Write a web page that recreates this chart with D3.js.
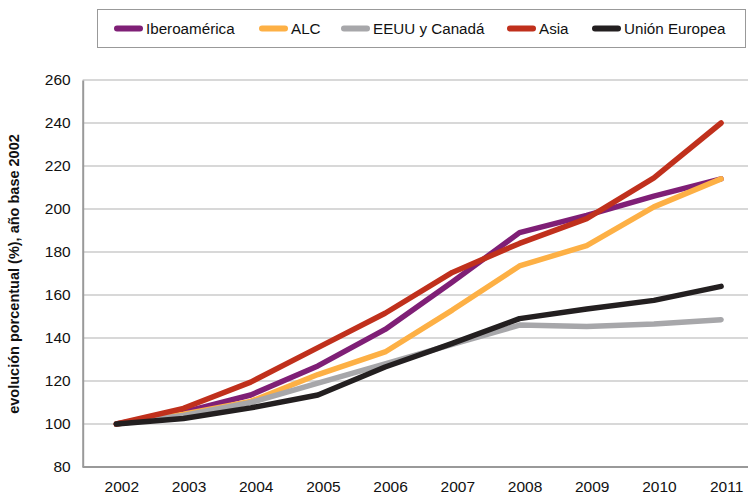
<!DOCTYPE html>
<html>
<head>
<meta charset="utf-8">
<script src="https://cdn.jsdelivr.net/npm/d3@7"></script>
<style>
  body { margin: 0; background: #fff; }
  svg { display: block; font-family: "Liberation Sans", Arial, sans-serif; }
</style>
</head>
<body>
<svg width="748" height="498"></svg>
<script>
// data
var years = ["2002", "2003", "2004", "2005", "2006", "2007", "2008", "2009", "2010", "2011"];
var yTicks = [80, 100, 120, 140, 160, 180, 200, 220, 240, 260];

var iberoamerica = [100, 105.5, 113.5, 127, 144, 166, 189, 197, 206, 214];
var alc          = [100, 104.5, 110.5, 123, 133.5, 153, 173.5, 183, 201, 214];
var eeuuCanada   = [100, 104, 110, 119, 128, 137, 146, 145.3, 146.5, 148.5];
var asia         = [100, 107.3, 119.5, 135.5, 151.5, 170.5, 184, 195.5, 214.5, 240];
var unionEuropea = [100, 102.6, 107.5, 113.5, 126.5, 137.5, 149, 153.5, 157.5, 164];

var seriesNames  = ["Iberoamérica", "ALC", "EEUU y Canadá", "Asia", "Unión Europea"];
var seriesValues = [iberoamerica, alc, eeuuCanada, asia, unionEuropea];
var seriesColors = ["#7f1f76", "#fdb045", "#a7a7aa", "#c0301c", "#231f20"];

var svg    = d3.select("svg");
var width  = +svg.attr("width");

// note: "top" is taken by window.top, so plotTop
var plotLeft = 82.7, plotTop = 80, plotBottom = 467;

var x = d3.scalePoint()
    .domain(years)
    .range([plotLeft, plotLeft + 672])   // plot runs past the right edge, like the original
    .padding(0.5);

var y = d3.scaleLinear()
    .domain([80, 260])
    .range([plotBottom, plotTop]);

// gridlines
svg.append("g")
  .selectAll("line")
  .data(yTicks.filter(function(d) { return d > 80; }))
  .enter().append("line")
    .attr("x1", plotLeft)
    .attr("x2", width)
    .attr("y1", function(d) { return y(d); })
    .attr("y2", function(d) { return y(d); })
    .attr("stroke", "#cbcbcb")
    .attr("stroke-width", 1.5);

// y axis
var yAxis = svg.append("g")
    .attr("transform", "translate(" + plotLeft + ",0)")
    .call(d3.axisLeft(y).tickValues(yTicks).tickSize(0).tickPadding(12));
yAxis.select(".domain").attr("stroke", "#999").attr("stroke-width", 2);
yAxis.selectAll("text").attr("font-size", 15.5).attr("fill", "#111")
    .attr("font-family", "Liberation Sans, Arial, sans-serif");

// x axis
var xAxis = svg.append("g")
    .attr("transform", "translate(0," + plotBottom + ")")
    .call(d3.axisBottom(x).tickSize(0).tickPadding(14).tickSizeOuter(0));
xAxis.select(".domain").attr("stroke", "#999").attr("stroke-width", 2)
    .attr("d", "M" + plotLeft + ",0H" + width);
xAxis.selectAll("text").attr("font-size", 15.5).attr("fill", "#111")
    .attr("dx", 5)
    .attr("font-family", "Liberation Sans, Arial, sans-serif");

// y label
svg.append("text")
    .attr("transform", "translate(19,274) rotate(-90)")
    .attr("text-anchor", "middle")
    .attr("font-size", 14.5)
    .attr("font-weight", "bold")
    .attr("fill", "#111")
    .text("evolución porcentual (%), año base 2002");

// lines
var line = d3.line()
    .x(function(d, i) { return x(years[i]); })
    .y(function(d) { return y(d); });

svg.append("g")
  .selectAll("path")
  .data(seriesValues)
  .enter().append("path")
    .attr("d", line)
    .attr("fill", "none")
    .attr("stroke", function(d, i) { return seriesColors[i]; })
    .attr("stroke-width", 5.5)
    .attr("stroke-linecap", "round")
    .attr("stroke-linejoin", "round");

// legend
svg.append("rect")
    .attr("x", 97.5).attr("y", 9.5)
    .attr("width", 648).attr("height", 38)
    .attr("fill", "#fff")
    .attr("stroke", "#999")
    .attr("stroke-width", 1);

var legendX = [117, 262, 344, 510, 595];

var item = svg.append("g")
  .selectAll("g")
  .data(seriesNames)
  .enter().append("g")
    .attr("transform", function(d, i) { return "translate(" + legendX[i] + ",28.5)"; });

item.append("line")
    .attr("x1", 0).attr("x2", 23)
    .attr("stroke", function(d, i) { return seriesColors[i]; })
    .attr("stroke-width", 6)
    .attr("stroke-linecap", "round");

item.append("text")
    .attr("x", 29)
    .attr("dy", "0.35em")
    .attr("font-size", 15.2)
    .attr("fill", "#111")
    .text(function(d) { return d; });
</script>
</body>
</html>
